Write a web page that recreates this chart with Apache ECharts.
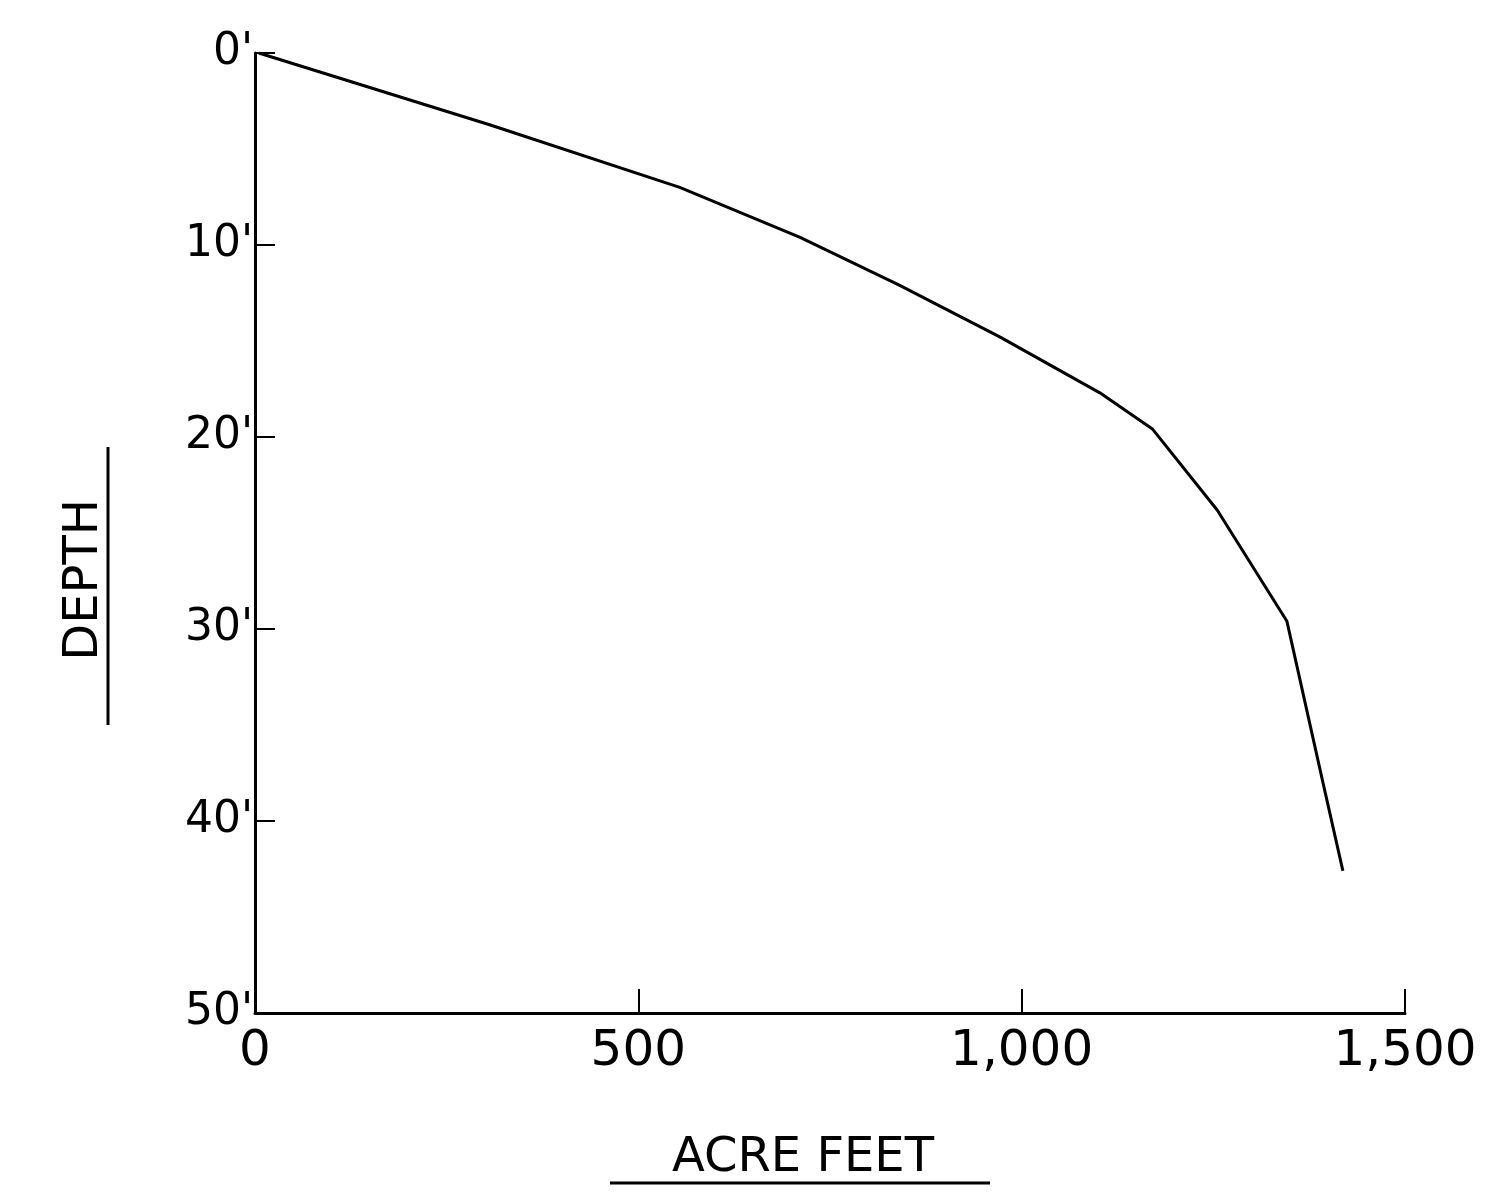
<!DOCTYPE html>
<html>
<head>
<meta charset="utf-8">
<script src="https://cdn.jsdelivr.net/npm/echarts@6/dist/echarts.min.js"></script>
<style>
html,body{margin:0;padding:0;background:#fff;}
#chart{width:1486px;height:1192px;}
</style>
</head>
<body>
<div id="chart"></div>
<script>
// Data (acre feet vs. depth in feet)
const acreFeet = [5, 307, 554, 711, 841, 972, 1102, 1171, 1255, 1346, 1393, 1419];
const depthFt  = [0, 3.75, 7.0, 9.6, 12.1, 14.8, 17.7, 19.6, 23.8, 29.6, 38.0, 42.6];
const xTicks = [0, 500, 1000, 1500];
const xTickLabels = ['0', '500', '1,000', '1,500'];
const yTickLabels = ["0'", "10'", "20'", "30'", "40'", "50'"];
const xTitle = 'ACRE FEET';
const yTitle = 'DEPTH';

const chart = echarts.init(document.getElementById('chart'));
const font = 'DejaVu Sans';
const option = {
  backgroundColor: '#ffffff',
  animation: false,
  grid: { left: 255, right: 81, top: 53, bottom: 179 },
  xAxis: {
    type: 'value', min: 0, max: 1500, interval: 500, position: 'bottom',
    name: xTitle, nameLocation: 'middle', nameGap: 122,
    nameTextStyle: { fontFamily: font, fontSize: 48, color: '#000', padding: [0, 54, 0, 0] },
    axisLine: { show: true, onZero: false, lineStyle: { color: '#000', width: 3 } },
    axisTick: { show: true, inside: true, length: 24, lineStyle: { color: '#000', width: 2 } },
    axisLabel: {
      fontFamily: font, fontSize: 50, color: '#000', margin: 14,
      formatter: v => xTickLabels[xTicks.indexOf(v)]
    },
    splitLine: { show: false }
  },
  yAxis: {
    type: 'value', min: 0, max: 50, interval: 10, inverse: true,
    name: yTitle, nameLocation: 'middle', nameGap: 146, nameRotate: 90,
    nameTextStyle: { fontFamily: font, fontSize: 48, color: '#000', padding: [0, 94, 0, 0] },
    axisLine: { show: true, onZero: false, lineStyle: { color: '#000', width: 3 } },
    axisTick: { show: true, inside: true, length: 20, lineStyle: { color: '#000', width: 2 } },
    axisLabel: {
      fontFamily: font, fontSize: 44, color: '#000', margin: 2,
      formatter: v => yTickLabels[v / 10]
    },
    splitLine: { show: false }
  },
  series: [{
    type: 'line',
    data: acreFeet.map((x, i) => [x, depthFt[i]]),
    showSymbol: false,
    smooth: false,
    lineStyle: { color: '#000', width: 3 }
  }],
  graphic: [
    { type: 'line', shape: { x1: 610, y1: 1183, x2: 990, y2: 1183 }, style: { stroke: '#000', lineWidth: 3 } },
    { type: 'line', shape: { x1: 108, y1: 447, x2: 108, y2: 725 }, style: { stroke: '#000', lineWidth: 3 } }
  ]
};
chart.setOption(option);
</script>
</body>
</html>
